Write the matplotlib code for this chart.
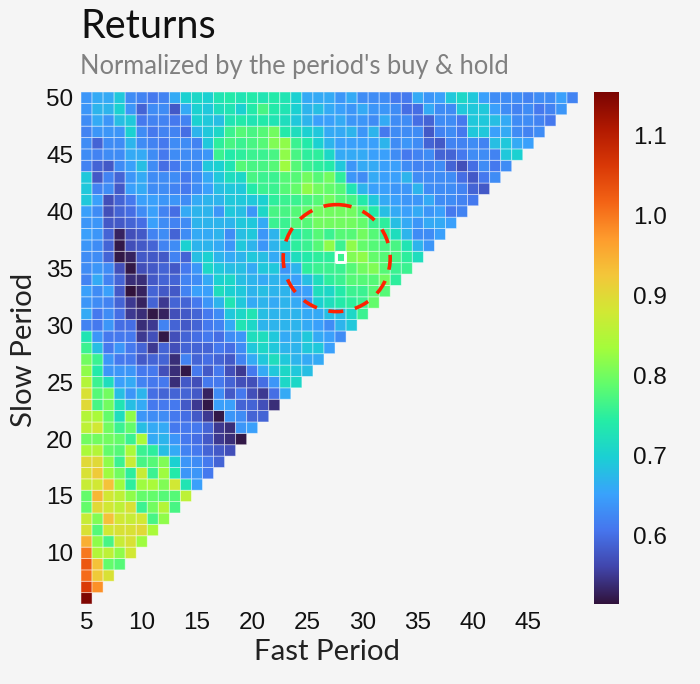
import matplotlib
matplotlib.use("Agg")
import matplotlib.pyplot as plt
from matplotlib.colors import LinearSegmentedColormap
from matplotlib.patches import Ellipse
import numpy as np

# ── Returns: one list per slow period, fast = 5, 6, ... ──
slow_50 = [.64,.66,.66,.69,.63, .62,.61,.62,.66,.70, .71,.70,.73,.74,.73, .74,.73,.74,.73,.70, .66,.66,.66,.64,.66, .63,.63,.63,.61,.61, .66,.64,.65,.69,.71, .69,.65,.63,.63,.63, .62,.63,.63,.65,.62]
slow_49 = [.64,.67,.67,.70,.64, .59,.63,.63,.58,.66, .70,.69,.72,.73,.70, .74,.77,.74,.73,.70, .67,.68,.66,.65,.64, .66,.64,.64,.63,.60, .60,.66,.63,.63,.69, .69,.69,.65,.63,.62, .63,.61,.62,.64]
slow_48 = [.63,.66,.64,.68,.69, .61,.62,.62,.61,.62, .70,.69,.68,.73,.74, .73,.74,.73,.72,.69, .67,.65,.65,.66,.64, .64,.63,.66,.63,.63, .60,.59,.63,.63,.61, .69,.69,.68,.66,.63, .63,.62,.61]
slow_47 = [.62,.64,.64,.64,.70, .63,.61,.62,.62,.60, .67,.69,.71,.76,.78, .77,.78,.80,.74,.72, .70,.69,.66,.66,.67, .64,.67,.61,.63,.63, .63,.58,.62,.63,.61, .69,.69,.65,.66,.63, .62,.63]
slow_46 = [.63,.59,.63,.63,.67, .63,.62,.61,.63,.63, .62,.69,.75,.77,.76, .77,.78,.81,.82,.76, .74,.70,.67,.65,.65, .65,.65,.67,.63,.64, .63,.59,.58,.62,.62, .63,.62,.68,.69,.66, .65]
slow_45 = [.63,.62,.63,.63,.66, .66,.63,.61,.63,.63, .63,.64,.76,.74,.75, .76,.76,.77,.82,.77, .75,.75,.71,.66,.66, .66,.65,.65,.63,.61, .62,.63,.59,.59,.61, .63,.63,.62,.69,.70]
slow_44 = [.62,.59,.58,.63,.65, .68,.63,.60,.61,.63, .63,.69,.70,.73,.78, .77,.77,.78,.83,.78, .76,.75,.74,.69,.64, .66,.66,.65,.65,.63, .62,.62,.63,.59,.57, .60,.63,.61,.63]
slow_43 = [.69,.58,.62,.59,.64, .66,.63,.63,.63,.61, .63,.66,.69,.72,.71, .77,.76,.76,.78,.78, .80,.78,.80,.75,.64, .63,.66,.65,.65,.67, .63,.63,.63,.63,.60, .58,.61,.63]
slow_42 = [.69,.62,.63,.58,.65, .66,.63,.63,.62,.61, .63,.65,.68,.69,.69, .74,.76,.76,.78,.79, .82,.80,.79,.78,.73, .67,.65,.65,.64,.64, .67,.63,.63,.63,.62, .59,.58]
slow_41 = [.69,.65,.57,.59,.61, .65,.65,.64,.64,.63, .66,.67,.67,.69,.69, .69,.70,.75,.76,.76, .77,.78,.80,.78,.77, .74,.69,.66,.65,.64, .64,.66,.63,.63,.62, .61]
slow_40 = [.65,.63,.57,.59,.60, .63,.65,.62,.60,.66, .67,.67,.64,.69,.68, .64,.71,.77,.77,.78, .79,.80,.80,.80,.80, .78,.74,.68,.66,.65, .66,.64,.65,.61,.62]
slow_39 = [.64,.64,.58,.58,.59, .60,.65,.63,.62,.63, .67,.67,.67,.67,.69, .69,.66,.76,.76,.78, .78,.80,.80,.80,.80, .79,.76,.75,.68,.66, .64,.66,.66,.65]
slow_38 = [.65,.64,.59,.53,.57, .58,.62,.63,.59,.63, .66,.66,.67,.63,.68, .69,.64,.67,.75,.74, .76,.78,.76,.78,.78, .80,.78,.76,.72,.67, .63,.63,.65]
slow_37 = [.64,.63,.59,.52,.57, .58,.59,.62,.63,.70, .67,.67,.66,.64,.69, .67,.64,.67,.70,.75, .76,.78,.82,.76,.82, .79,.78,.77,.77,.73, .67,.64]
slow_36 = [.63,.63,.59,.52,.53, .58,.58,.58,.62,.59, .68,.70,.67,.66,.67, .69,.68,.66,.67,.72, .74,.75,.75,.76,.81, .82,.79,.78,.77,.75, .72]
slow_35 = [.63,.64,.63,.57,.52, .57,.58,.59,.58,.61, .64,.71,.69,.68,.68, .66,.69,.69,.64,.67, .75,.76,.76,.76,.78, .80,.81,.78,.76,.76]
slow_34 = [.62,.66,.62,.59,.54, .54,.58,.59,.59,.62, .63,.66,.70,.71,.68, .67,.66,.67,.66,.65, .68,.72,.75,.76,.78, .78,.78,.80,.75]
slow_33 = [.65,.63,.65,.58,.515, .53,.59,.58,.58,.62, .65,.65,.72,.70,.69, .67,.68,.67,.67,.64, .65,.72,.71,.74,.76, .76,.78,.78]
slow_32 = [.64,.63,.62,.59,.55, .53,.59,.55,.59,.59, .61,.64,.67,.73,.69, .66,.67,.66,.67,.66, .64,.70,.72,.74,.75, .76,.79]
slow_31 = [.66,.61,.63,.60,.55, .54,.52,.53,.57,.58, .59,.61,.63,.69,.71, .73,.68,.67,.67,.67, .66,.66,.68,.68,.71, .76]
slow_30 = [.62,.61,.64,.60,.60, .54,.55,.62,.59,.58, .59,.61,.62,.66,.73, .71,.67,.67,.67,.67, .66,.65,.63,.67,.69]
slow_29 = [.73,.64,.61,.61,.61, .55,.57,.52,.57,.59, .60,.61,.60,.63,.64, .72,.72,.69,.66,.67, .69,.66,.65,.63]
slow_28 = [.76,.68,.61,.64,.61, .59,.55,.59,.57,.59, .59,.59,.61,.60,.63, .69,.71,.69,.67,.67, .69,.69,.65]
slow_27 = [.80,.76,.64,.61,.61, .58,.59,.59,.54,.62, .59,.60,.59,.58,.62, .66,.69,.72,.69,.67, .66,.66]
slow_26 = [.82,.74,.64,.64,.64, .61,.61,.57,.54,.52, .61,.58,.61,.57,.55, .61,.66,.69,.71,.69, .68]
slow_25 = [.85,.76,.72,.65,.66, .62,.61,.61,.54,.58, .57,.61,.61,.59,.57, .57,.60,.64,.71,.71]
slow_24 = [.89,.78,.80,.68,.64, .67,.60,.59,.59,.59, .58,.53,.63,.58,.61, .57,.55,.60,.66]
slow_23 = [.90,.77,.80,.73,.68, .66,.61,.61,.61,.58, .55,.52,.65,.65,.59, .59,.57,.54]
slow_22 = [.85,.84,.79,.72,.82, .64,.63,.63,.61,.60, .58,.55,.52,.64,.63, .59,.59]
slow_21 = [.86,.88,.80,.76,.79, .68,.66,.66,.61,.61, .61,.59,.55,.54,.64, .65]
slow_20 = [.80,.80,.80,.79,.76, .84,.66,.67,.64,.61, .60,.58,.55,.54,.52]
slow_19 = [.84,.85,.79,.78,.84, .76,.75,.68,.66,.62, .61,.59,.58,.57]
slow_18 = [.90,.90,.82,.76,.87, .77,.78,.81,.70,.64, .63,.61,.59]
slow_17 = [.89,.92,.83,.80,.75, .87,.76,.83,.74,.64, .64,.61]
slow_16 = [.87,.88,.93,.83,.75, .83,.84,.81,.88,.73, .65]
slow_15 = [.79,.94,.88,.86,.82, .79,.79,.78,.78,.86]
slow_14 = [.79,.90,.88,.86,.89, .76,.80,.85,.77]
slow_13 = [.87,.81,.93,.88,.87, .88,.77,.82]
slow_12 = [.89,.78,.88,.89,.89, .90,.84]
slow_11 = [.95,.82,.77,.87,.89, .83]
slow_10 = [1.00,.85,.86,.82,.88]
slow_9 = [1.03,.93,.79,.78]
slow_8 = [1.01,.92,.89]
slow_7 = [1.06,.98]
slow_6 = [1.15]

slow_rows = [slow_6, slow_7, slow_8, slow_9, slow_10, slow_11, slow_12, slow_13, slow_14,
             slow_15, slow_16, slow_17, slow_18, slow_19, slow_20, slow_21, slow_22, slow_23,
             slow_24, slow_25, slow_26, slow_27, slow_28, slow_29, slow_30, slow_31, slow_32,
             slow_33, slow_34, slow_35, slow_36, slow_37, slow_38, slow_39, slow_40, slow_41,
             slow_42, slow_43, slow_44, slow_45, slow_46, slow_47, slow_48, slow_49, slow_50]

fast_periods = np.arange(5, 50)
slow_periods = np.arange(6, 51)
x_ticks = [5, 10, 15, 20, 25, 30, 35, 40, 45]
y_ticks = [10, 15, 20, 25, 30, 35, 40, 45, 50]
cbar_ticks = [0.6, 0.7, 0.8, 0.9, 1.0, 1.1]
best_fast, best_slow = 28, 36
zmin, zmax = 0.514, 1.154

BG = "#f5f5f5"
W, H = 700, 684
TITLE_FONT = "Lato"
TICK_FONT = "Liberation Sans"
# the coarse 15-stop turbo scale; straight blends between stops look softer than mpl's
turbo_stops = ["#30123b", "#4145ab", "#4675ed", "#39a2fc", "#1bcfd4", "#24eca6", "#61fc6c", "#a4fc3b",
               "#d1e834", "#f3c63a", "#fe9b2d", "#f36315", "#d93806", "#b11901", "#7a0402"]
turbo_soft = LinearSegmentedColormap.from_list("turbo_soft", turbo_stops, N=512)

returns = np.full((len(slow_periods), len(fast_periods)), np.nan)
for i, row in enumerate(slow_rows):
    returns[i, :len(row)] = row
returns = np.ma.masked_invalid(returns)


def px_axes(left, top, right, bottom):
    return fig.add_axes([left / W, 1 - bottom / H, (right - left) / W, (bottom - top) / H])


fig = plt.figure(figsize=(W / 100, H / 100), dpi=100, facecolor=BG)
ax = px_axes(81, 92, 578, 604)
ax.set_facecolor(BG)

x_edges = np.append(fast_periods - 0.5, fast_periods[-1] + 0.5)
y_edges = np.append(slow_periods - 0.5, slow_periods[-1] + 0.5)
mesh = ax.pcolor(x_edges, y_edges, returns, cmap=turbo_soft, vmin=zmin, vmax=zmax,
                 edgecolors=(1, 1, 1, 0.5), linewidth=0.6)

# dashed ring round the best region, and the best cell itself
# negative height so the dash pattern runs clockwise from the right-hand side
ring = Ellipse((27.65, 35.9), 9.69, -9.4, fill=False, edgecolor="#ff2200",
               linewidth=2.6, linestyle=(0, (4.15, 3.3)), zorder=3)
ax.add_patch(ring)
ax.scatter([best_fast], [best_slow], marker="s", s=46, facecolors="none",
           edgecolors="white", linewidths=2.1, zorder=4)

ax.set_xlim(x_edges[0], x_edges[-1])
ax.set_ylim(y_edges[0], y_edges[-1])
ax.set_xticks(x_ticks)
ax.set_yticks(y_ticks)
ax.tick_params(length=0, labelsize=17.5, labelcolor="#111111", pad=5.5)
for lab in ax.get_xticklabels() + ax.get_yticklabels():
    lab.set_fontfamily(TICK_FONT)
for side in ax.spines.values():
    side.set_visible(False)

# colour bar
cax = px_axes(594, 92, 619, 604)
cbar = fig.colorbar(mesh, cax=cax, ticks=cbar_ticks)
cbar.outline.set_visible(False)
cbar.ax.tick_params(length=0, labelsize=17.5, labelcolor="#111111", pad=10)
cbar.ax.set_yticklabels([f"{t:.1f}" for t in cbar_ticks], fontfamily=TICK_FONT)

fig.text(80 / W, 1 - 38 / H, "Returns", fontsize=28.5, family=TITLE_FONT, color="#111111", va="baseline")
fig.text(80 / W, 1 - 74 / H, "Normalized by the period's buy & hold", fontsize=18.4,
         family=TITLE_FONT, color="#808080", va="baseline")
fig.text(327.5 / W, 1 - 652 / H, "Fast Period", fontsize=21.2, family=TITLE_FONT, color="#222222",
         ha="center", va="center")
fig.text(24 / W, 1 - 350 / H, "Slow Period", fontsize=21.2, family=TITLE_FONT, color="#222222",
         rotation=90, ha="center", va="center")

fig.savefig("out.png", dpi=100, facecolor=BG)
